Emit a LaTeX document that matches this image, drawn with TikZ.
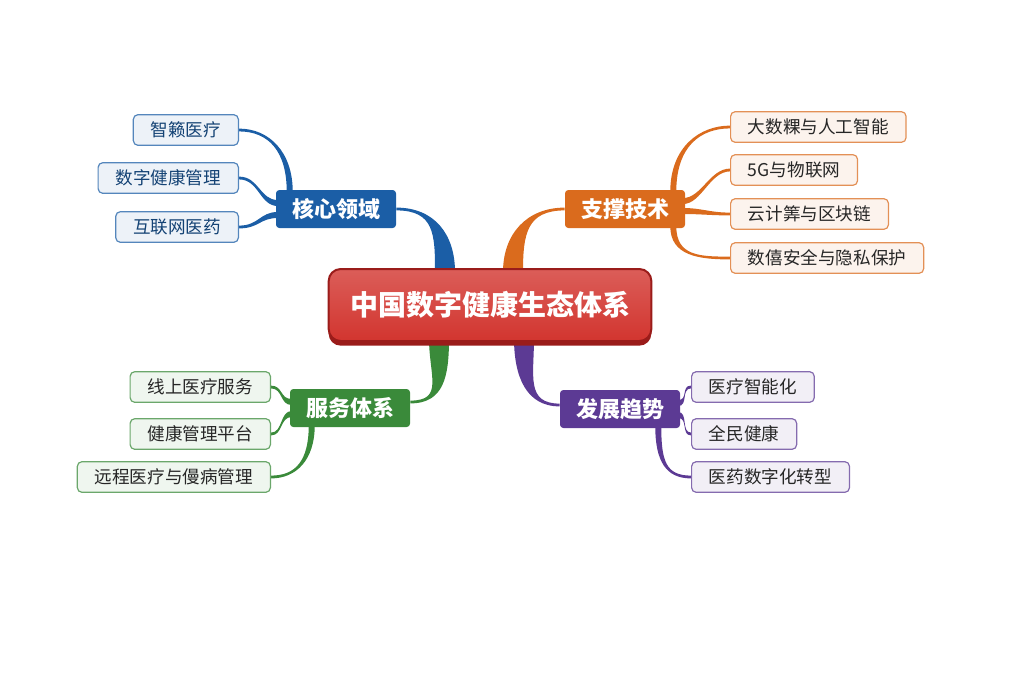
\documentclass[tikz,border=0pt]{standalone}
\usepackage{fontspec}
\setmainfont{Noto Sans CJK SC}
\usetikzlibrary{calc,shadows,backgrounds}

\definecolor{hubred}{HTML}{D2352F}
\definecolor{hubdark}{HTML}{9A1C1A}
\definecolor{coreblue}{HTML}{1B5EA6}
\definecolor{techorange}{HTML}{DA6B1D}
\definecolor{servgreen}{HTML}{3A8A3A}
\definecolor{trendpurple}{HTML}{5C3A94}

% tapered branch: colour, from, half-width vector, control at start, control at end, to
\newcommand\limb[6]{%
  \fill[#1] ($#2+#3$) .. controls +#4 and +#5 .. ($#6+(0,-1.4)$)
    -- ($#6+(0,1.4)$) .. controls +#5 and +#4 .. ($#2-#3$) -- cycle;}

\tikzset{
  hub/.style={rounded corners=9pt, draw=hubdark, line width=1.5pt,
    top color=hubred!80!white, bottom color=hubred, text=white,
    font=\fontsize{21pt}{24pt}\selectfont\bfseries,
    minimum height=54pt, inner xsep=16pt,
    drop shadow={shadow xshift=0pt, shadow yshift=-3.5pt, fill=hubdark, opacity=1}},
  topic/.style={rounded corners=2.5pt, fill=#1, text=white,
    font=\fontsize{16.5pt}{19pt}\selectfont\bfseries,
    minimum height=28.5pt, inner xsep=12pt},
  leaf/.style={rounded corners=3.5pt, draw=#1!75!white, fill=#1!8!white,
    line width=0.9pt, text=black!85,
    font=\fontsize{13.2pt}{15pt}\selectfont,
    minimum height=23pt, inner xsep=13pt},
}

\begin{document}
\begin{tikzpicture}[x=0.75pt,y=-0.75pt]
\useasboundingbox (0,0) rectangle (1024,683);

% centre and main topics
\node[hub] (hub) at (490,305) {中国数字健康生态体系};
\node[topic=coreblue] (core) at (336,209) {核心领域};
\node[topic=techorange] (tech) at (625,209) {支撑技术};
\node[topic=servgreen] (serv) at (350,408) {服务体系};
\node[topic=trendpurple] (trend) at (620,409) {发展趋势};

% leaves
\node[leaf=coreblue, text=coreblue!70!black, anchor=east] (c1) at (239,130) {智籁医疗};
\node[leaf=coreblue, text=coreblue!70!black, anchor=east] (c2) at (239,178) {数字健康管理};
\node[leaf=coreblue, text=coreblue!70!black, anchor=east] (c3) at (239,227) {互联网医药};

\node[leaf=techorange, anchor=west] (t1) at (730,127) {大数粿与人工智能};
\node[leaf=techorange, anchor=west] (t2) at (730,170) {5G与物联网};
\node[leaf=techorange, anchor=west] (t3) at (730,214) {云计筭与区块链};
\node[leaf=techorange, anchor=west] (t4) at (730,258) {数僖安全与隐私保护};

\node[leaf=servgreen, anchor=east] (s1) at (271,387) {线上医疗服务};
\node[leaf=servgreen, anchor=east] (s2) at (271,434) {健康管理平台};
\node[leaf=servgreen, anchor=east] (s3) at (271,477) {远程医疗与僈病管理};

\node[leaf=trendpurple, anchor=west] (p1) at (691,387) {医疗智能化};
\node[leaf=trendpurple, anchor=west] (p2) at (691,434) {全民健康};
\node[leaf=trendpurple, anchor=west] (p3) at (691,477) {医药数字化转型};

\begin{pgfonlayer}{background}
% main branches
\limb{coreblue}{(hub.north)+(-45,4)}{(10,0)}{(0,-38)}{(38,0)}{(core.east)}
\limb{techorange}{(hub.north)+(23,4)}{(-10,0)}{(0,-38)}{(-38,0)}{(tech.west)}
\limb{servgreen}{(hub.south)+(-51,-4)}{(-10,0)}{(0,38)}{(34,0)}{(serv.east)+(0,-6)}
\limb{trendpurple}{(hub.south)+(34,-4)}{(10,0)}{(0,38)}{(-34,0)}{(trend.west)+(0,-4)}
% core leaves
\limb{coreblue}{(core.north west)+(14,2)}{(3,0)}{(0,-40)}{(30,0)}{(c1.east)}
\limb{coreblue}{(core.west)+(2,-6)}{(0,-3)}{(-18,0)}{(20,0)}{(c2.east)}
\limb{coreblue}{(core.west)+(2,6)}{(0,-3)}{(-18,0)}{(20,0)}{(c3.east)}
% tech leaves
\limb{techorange}{(tech.north east)+(-12,2)}{(-3,0)}{(0,-45)}{(-30,0)}{(t1.west)}
\limb{techorange}{(tech.east)+(-2,-8)}{(0,-3)}{(18,0)}{(-20,0)}{(t2.west)}
\limb{techorange}{(tech.east)+(-2,2)}{(0,-3)}{(18,0)}{(-20,0)}{(t3.west)}
\limb{techorange}{(tech.south east)+(-12,-2)}{(3,0)}{(0,30)}{(-30,0)}{(t4.west)}
% service leaves
\limb{servgreen}{(serv.west)+(2,-6)}{(0,-3)}{(-12,0)}{(12,0)}{(s1.east)}
\limb{servgreen}{(serv.west)+(2,6)}{(0,-3)}{(-12,0)}{(12,0)}{(s2.east)}
\limb{servgreen}{(serv.south west)+(22,-2)}{(-3,0)}{(0,35)}{(25,0)}{(s3.east)}
% trend leaves
\limb{trendpurple}{(trend.east)+(-2,-6)}{(0,-3)}{(10,0)}{(-10,0)}{(p1.west)}
\limb{trendpurple}{(trend.east)+(-2,6)}{(0,-3)}{(10,0)}{(-10,0)}{(p2.west)}
\limb{trendpurple}{(trend.south east)+(-22,-2)}{(3,0)}{(0,35)}{(-25,0)}{(p3.west)}
\end{pgfonlayer}
\end{tikzpicture}
\end{document}
